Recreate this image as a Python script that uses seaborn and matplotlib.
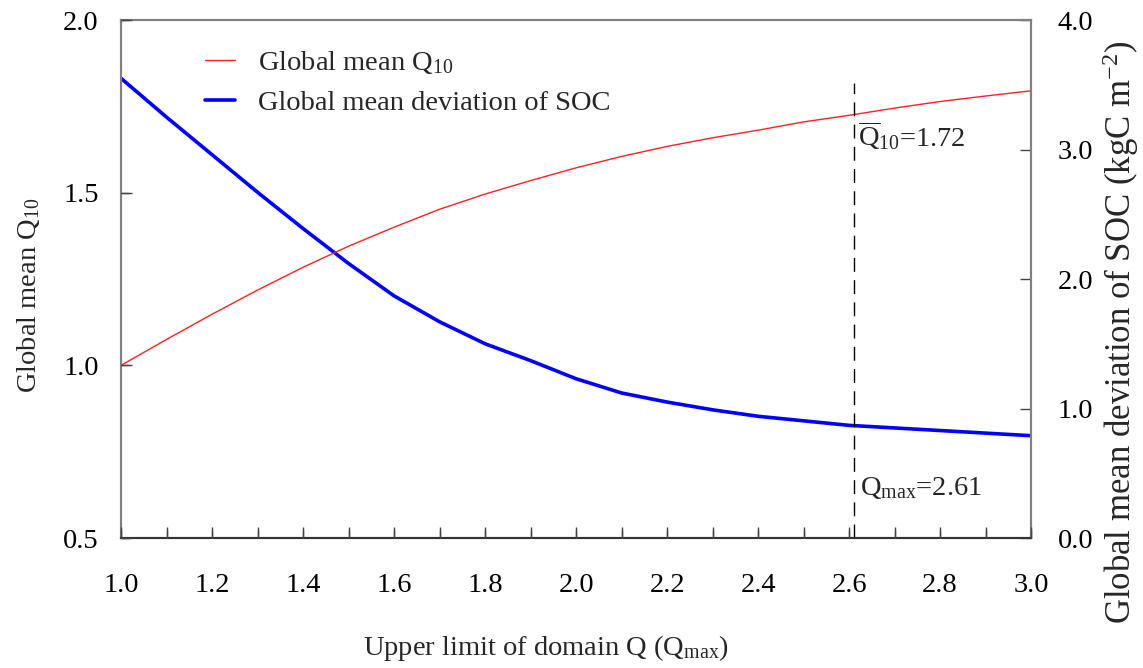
import matplotlib
matplotlib.use("Agg")
import matplotlib.pyplot as plt
from matplotlib.transforms import blended_transform_factory
import numpy as np
import pandas as pd
import seaborn as sns

# Upper limit of the Q domain
q_max = [1.0, 1.1, 1.2, 1.3, 1.4, 1.5, 1.6, 1.7, 1.8, 1.9, 2.0,
         2.1, 2.2, 2.3, 2.4, 2.5, 2.6, 2.7, 2.8, 2.9, 3.0]
# Global mean Q10 (left axis)
q10_mean = [1.000, 1.075, 1.148, 1.218, 1.284, 1.345, 1.400, 1.452, 1.496, 1.535, 1.572,
            1.605, 1.634, 1.659, 1.681, 1.705, 1.724, 1.745, 1.764, 1.780, 1.795]
# Global mean deviation of SOC, kgC m-2 (right axis)
soc_dev = [3.55, 3.25, 2.96, 2.67, 2.39, 2.12, 1.87, 1.67, 1.50, 1.37, 1.23,
           1.12, 1.05, 0.99, 0.94, 0.905, 0.87, 0.85, 0.83, 0.81, 0.79]

x_labels = ["1.0", "1.2", "1.4", "1.6", "1.8", "2.0", "2.2", "2.4", "2.6", "2.8", "3.0"]
left_labels = ["0.5", "1.0", "1.5", "2.0"]
right_labels = ["0.0", "1.0", "2.0", "3.0", "4.0"]

chosen_qmax = 2.61
chosen_q10 = 1.72

df = pd.DataFrame({"qmax": q_max, "q10": q10_mean, "soc": soc_dev})

sns.set_theme(style="white")
FS = 20.5
tick_color = "#444444"
plt.rcParams.update({
    "font.family": ["Liberation Serif", "DejaVu Serif"],
    "mathtext.fontset": "custom",
    "mathtext.rm": "Liberation Serif",
    "mathtext.it": "Liberation Serif:italic",
    "axes.axisbelow": False,
})

fig = plt.figure(figsize=(11.43, 6.68), dpi=100)
ax = fig.add_axes([0.1059, 0.1946, 0.7962, 0.7754])
ax2 = ax.twinx()
ax.set_zorder(ax2.get_zorder() + 1)
ax.patch.set_visible(False)

sns.lineplot(data=df, x="qmax", y="q10", ax=ax, color="#ff2020", lw=1.0,
             label=r"Global mean Q$_{\mathrm{10}}$", legend=False)
sns.lineplot(data=df, x="qmax", y="soc", ax=ax2, color="#0000ff", lw=2.6,
             label="Global mean deviation of SOC", legend=False)

ax.axvline(chosen_qmax, ymin=0, ymax=0.878, color="black", lw=1.0,
           dashes=(10, 6))

ax.set_xlim(1.0, 3.0)
ax.set_ylim(0.5, 2.0)
ax2.set_ylim(0.0, 4.0)

x_major = [float(s) for s in x_labels]
x_minor = list(np.round(np.arange(1.1, 3.0, 0.2), 1))
y_left = [float(s) for s in left_labels]

ax.set_xticks(x_major)
ax.set_xticklabels(x_labels)
ax.set_xticks(x_minor, minor=True)
ax.set_yticks(y_left)
ax.set_yticklabels(left_labels)
ax2.set_yticks([float(s) for s in right_labels])
ax2.set_yticklabels(right_labels)

ax.tick_params(axis="x", which="both", direction="in", length=8, width=1.0,
               color=tick_color, labelcolor="black", labelsize=FS,
               bottom=True, top=False, labelbottom=True, pad=25)
ax.tick_params(axis="y", which="both", direction="in", length=8, width=1.0,
               color=tick_color, labelcolor="black", labelsize=FS,
               left=True, right=False, labelleft=True, pad=16)
ax2.tick_params(axis="y", which="both", direction="in", length=8, width=1.0,
                color=tick_color, labelcolor="black", labelsize=FS,
                right=True, left=False, labelright=True, pad=19)

# inward tick marks along the bottom and left spines
tick_len_px = 8
ax_w_px = 0.7962 * 1143
ax_h_px = 0.7754 * 668
xt = blended_transform_factory(ax.transData, ax.transAxes)
ax.vlines(x_major + x_minor, 0, tick_len_px / ax_h_px, transform=xt,
          colors=tick_color, lw=1.0, clip_on=False, zorder=3)
yt = blended_transform_factory(ax.transAxes, ax.transData)
ax.hlines(y_left, 0, tick_len_px / ax_w_px, transform=yt,
          colors=tick_color, lw=1.0, clip_on=False, zorder=3)
ax.set_xlim(1.0, 3.0)
ax.set_ylim(0.5, 2.0)

for a in (ax, ax2):
    for s in a.spines.values():
        s.set_color("#808080")
        s.set_linewidth(1.5)
ax.spines["bottom"].set_color("#333333")

ax.set_xlabel(r"Upper limit of domain Q (Q$_{\mathrm{max}}$)", fontsize=FS)
ax.xaxis.set_label_coords(0.467, -0.212)
ax.xaxis.label.set_va("center")
ax.set_ylabel(r"Global mean Q$_{\mathrm{10}}$", fontsize=FS)
ax.yaxis.set_label_coords(-0.102, 0.469)
ax.yaxis.label.set_va("center")
ax2.set_ylabel(r"Global mean deviation of SOC (kgC m$^{\mathrm{-2}}$)", fontsize=25)
ax2.yaxis.set_label_coords(1.098, 0.398)
ax2.yaxis.label.set_va("center")

ax.text(2.62, 1.665,
        r"$\overline{\mathrm{Q}}_{\mathrm{10}}$=" + f"{chosen_q10:.2f}",
        fontsize=FS, va="center", ha="left")
ax.text(2.625, 0.645,
        r"Q$_{\mathrm{max}}$=" + f"{chosen_qmax:.2f}",
        fontsize=FS, va="center", ha="left")

h1, l1 = ax.get_legend_handles_labels()
h2, l2 = ax2.get_legend_handles_labels()
ax.legend(h1 + h2, l1 + l2, loc="upper left", bbox_to_anchor=(0.0923, 0.944),
          frameon=False, fontsize=FS, handlelength=1.05, handletextpad=0.8,
          labelspacing=0.5, borderpad=0, borderaxespad=0)

fig.savefig("out.png", dpi=100)
